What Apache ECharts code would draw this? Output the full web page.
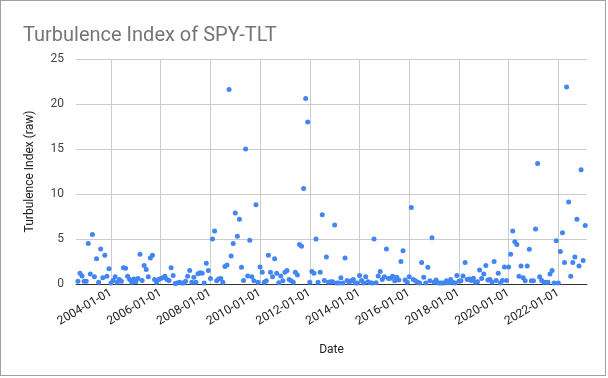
<!DOCTYPE html>
<html>
<head>
<meta charset="utf-8">
<script src="https://cdn.jsdelivr.net/npm/echarts@6/dist/echarts.min.js"></script>
<style>
html, body { margin: 0; padding: 0; background: #fff; }
#chart { position: absolute; left: 0; top: 0; width: 604px; height: 374px; border: 1px solid #9e9e9e; }
</style>
</head>
<body>
<div id="chart"></div>
<script>
// monthly observations, first one is 2002-09
var startYear = 2002;
var startMonth = 9;
var turbulence = [
  0.3, 1.2, 0.9, 0.3, 0.3, 4.5, 1.1, 5.5, 0.8, 2.8, 0.2, 3.9, 0.7, 3.2, 0.85, 1.7,
  0.1, 0.4, 0.8, 0.2, 0.5, 0.3, 1.8, 1.75, 0.85, 0.5, 0.2, 0.55, 0.25, 0.6, 3.3, 0.4,
  2.05, 1.6, 0.8, 2.9, 3.2, 0.5, 0.2, 0.5, 0.6, 0.7, 0.85, 0.5, 0.4, 1.8, 0.95, 0.05,
  0.1, 0.2, 0.1, 0.1, 0.3, 0.85, 1.5, 0.2, 0.75, 0.2, 1.15, 1.25, 1.2, 0.1, 2.3, 1.5,
  0.6, 5.0, 5.9, 0.35, 0.55, 0.6, 0.2, 1.95, 2.1, 21.6, 3.1, 4.5, 7.9, 5.3, 7.2, 1.85,
  0.4, 15.0, 0.9, 4.85, 0.8, 0.35, 8.8, 0.2, 1.9, 1.3, 0.2, 0.35, 3.2, 1.3, 0.8, 2.8,
  1.2, 0.15, 0.9, 0.35, 1.3, 1.5, 0.5, 0.35, 0.2, 1.3, 1.0, 4.4, 4.2, 10.6, 20.6, 18.0,
  0.2, 1.4, 1.2, 5.0, 0.2, 1.3, 7.7, 0.4, 3.0, 0.2, 0.25, 0.25, 6.55, 0.1, 0.1, 0.7,
  0.1, 2.9, 0.4, 0.2, 0.35, 0.5, 0.1, 0.1, 0.95, 0.4, 0.1, 0.8, 0.25, 0.15, 0.1, 5.0,
  0.15, 0.9, 1.4, 0.5, 0.8, 3.9, 0.6, 0.65, 0.85, 0.35, 0.75, 0.45, 2.5, 3.7, 0.45, 0.2,
  0.8, 8.5, 0.5, 0.35, 0.2, 0.1, 2.4, 0.75, 0.1, 1.85, 0.35, 5.15, 0.2, 0.45, 0.1, 0.1,
  0.1, 0.1, 0.35, 0.15, 0.5, 0.2, 0.1, 0.95, 0.3, 0.35, 0.9, 2.4, 0.5, 0.55, 0.4, 0.65,
  0.2, 0.25, 1.55, 0.6, 1.1, 2.05, 0.45, 0.5, 0.2, 2.5, 0.4, 1.2, 0.1, 0.4, 1.9, 0.4,
  1.9, 3.3, 5.9, 4.7, 4.4, 0.85, 2.0, 0.7, 0.35, 2.0, 3.85, 0.35, 0.35, 6.1, 13.4, 0.8,
  0.4, 0.2, 0.2, 0.2, 1.1, 1.5, 0.1, 4.8, 0.1, 3.6, 5.7, 2.4, 21.9, 9.1, 0.85, 2.4,
  3.0, 7.2, 2.0, 12.7, 2.6, 6.5
];
var labelYears = [2004, 2006, 2008, 2010, 2012, 2014, 2016, 2018, 2020, 2022];

var points = turbulence.map(function(v, i) {
  return [startYear + (startMonth - 1 + i) / 12, v];
});

var myChart = echarts.init(document.getElementById("chart"));
var font = "Roboto, Arial, sans-serif";

var option = {
  animation: false,
  title: {
    text: "Turbulence Index of SPY-TLT",
    left: 17,
    top: 20,
    textStyle: {
      color: "#757575",
      fontSize: 20,
      fontWeight: "normal",
      fontFamily: font
    }
  },
  grid: {
    left: 75,
    right: 18,
    top: 58,
    bottom: 91
  },
  xAxis: {
    type: "value",
    min: 2002.59,
    max: 2023.155,
    name: "Date",
    nameLocation: "middle",
    nameGap: 60,
    nameTextStyle: { color: "#222", fontSize: 12, fontFamily: font },
    axisLine: { show: true, lineStyle: { color: "#333", width: 1 } },
    axisTick: { show: false, customValues: labelYears },
    axisLabel: {
      customValues: labelYears,
      rotate: 30,
      margin: 8,
      color: "#222",
      fontSize: 12,
      fontFamily: font,
      formatter: function(v) {
        return v + "-01-01";
      }
    },
    splitLine: { show: true, lineStyle: { color: "#ccc" } }
  },
  yAxis: {
    type: "value",
    min: 0,
    max: 25,
    interval: 5,
    name: "Turbulence Index (raw)",
    nameLocation: "middle",
    nameGap: 40,
    nameTextStyle: { color: "#222", fontSize: 12, fontFamily: font },
    axisLine: { show: false },
    axisTick: { show: false },
    axisLabel: { color: "#444", fontSize: 12, margin: 12, fontFamily: font },
    splitLine: { lineStyle: { color: "#ccc" } }
  },
  series: [
    {
      type: "scatter",
      symbol: "circle",
      symbolSize: 5,
      itemStyle: { color: "#4285f4", opacity: 1 },
      data: points
    }
  ]
};
myChart.setOption(option);
</script>
</body>
</html>
